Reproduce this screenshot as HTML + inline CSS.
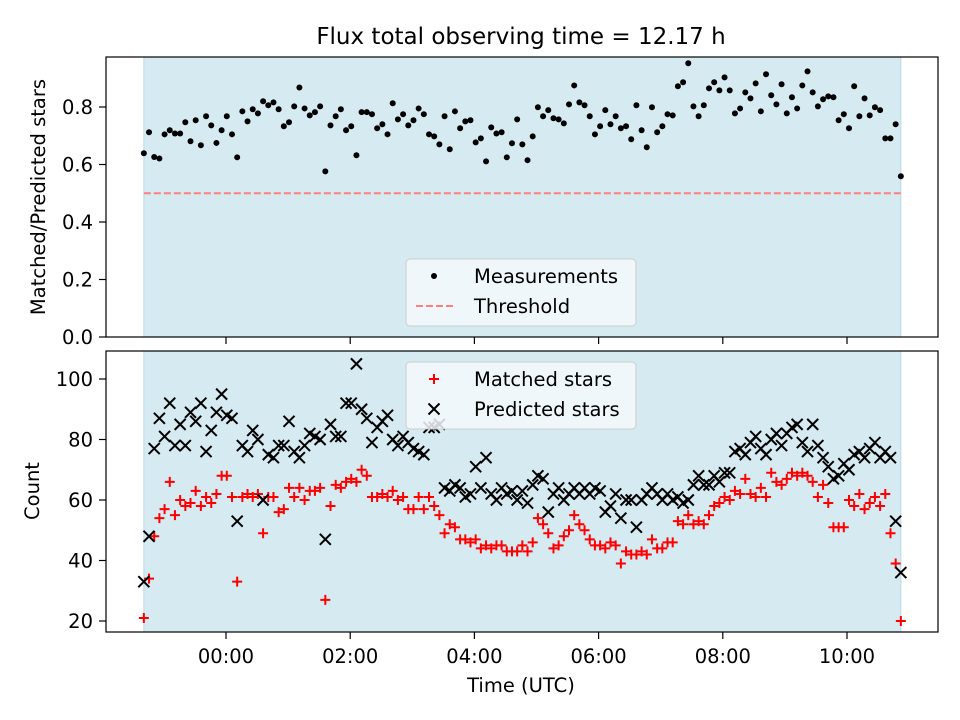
<!DOCTYPE html>
<html><head><meta charset="utf-8"><style>
body{margin:0;background:#fff}
svg{display:block;font-family:"DejaVu Sans","Liberation Sans",sans-serif}
</style></head><body>
<svg id="chart" width="960" height="720" viewBox="0 0 960 720" xmlns="http://www.w3.org/2000/svg">
<text x="521" y="44" text-anchor="middle" style="font-size:23px">Flux total observing time = 12.17 h</text>
<g id="top"></g>
<g id="bot"></g>
<text x="0" y="0" transform="translate(45,197) rotate(-90)" text-anchor="middle" style="font-size:19.5px">Matched/Predicted stars</text>
<text x="0" y="0" transform="translate(39,491) rotate(-90)" text-anchor="middle" style="font-size:19.5px">Count</text>
<text x="521" y="692" text-anchor="middle" style="font-size:19.5px">Time (UTC)</text>
</svg>
<script>
const ratios=[0.639,0.712,0.626,0.621,0.705,0.719,0.708,0.708,0.747,0.681,0.754,0.667,0.768,0.736,0.675,0.719,0.768,0.705,0.625,0.785,0.750,0.792,0.778,0.820,0.806,0.816,0.792,0.733,0.747,0.802,0.868,0.795,0.771,0.782,0.802,0.576,0.736,0.768,
0.792,0.719,0.733,0.632,0.782,0.782,0.775,0.726,0.740,0.705,0.813,0.757,0.775,0.736,0.754,0.795,0.775,0.705,0.698,0.670,0.768,0.653,0.785,0.726,0.750,0.754,0.677,0.691,0.611,0.729,0.708,0.712,0.625,0.674,0.757,0.670,0.615,
0.698,0.799,0.768,0.789,0.761,0.757,0.743,0.809,0.875,0.816,0.806,0.768,0.705,0.733,0.789,0.740,0.768,0.726,0.733,0.688,0.806,0.719,0.660,0.799,0.712,0.733,0.775,0.771,0.872,0.886,0.952,0.802,0.768,0.806,0.865,0.886,0.858,
0.903,0.858,0.778,0.795,0.851,0.830,0.882,0.785,0.914,0.841,0.809,0.879,0.778,0.834,0.795,0.875,0.924,0.851,0.802,0.827,0.837,0.834,0.754,0.775,0.726,0.872,0.768,0.830,0.771,0.799,0.789,0.691,0.691,0.740,0.559];
const matched=[21,34,48,54,57,66,55,60,58,59,63,58,61,59,62,68,68,61,33,61,62,61,62,49,61,61,56,57,64,61,64,60,63,63,64,27,58,65,64,66,67,66,70,68,61,61,62,61,63,60,61,57,57,61,57,61,58,55,49,52,51,47,47,46,47,44,45,44,45,45,43,43,43,45,43,46,54,52,49,44,45,48,50,55,52,50,47,45,45,44,46,45,39,43,42,42,43,42,47,44,44,46,46,53,52,55,52,53,52,55,58,59,61,60,63,62,67,62,61,64,61,69,66,65,67,69,68,69,68,66,61,65,59,51,51,51,60,58,62,57,59,61,58,62,49,39,20];
const predicted=[33,48,77,87,81,92,78,85,78,89,86,92,76,83,89,95,88,87,53,78,76,83,80,60,75,74,78,78,86,76,74,78,82,81,80,47,85,81,81,92,92,105,90,87,79,84,86,88,80,78,81,79,77,76,75,84,84,85,64,63,65,64,61,62,71,64,74,62,60,64,62,63,60,63,59,65,68,67,56,62,64,60,62,64,62,64,62,64,63,56,58,62,54,60,60,51,60,62,64,62,60,62,60,61,59,60,65,68,65,65,68,66,69,69,76,77,75,79,81,77,75,80,82,78,82,84,85,79,76,85,78,74,71,67,68,72,70,75,76,74,77,79,74,76,74,53,36];
const startHour=-1.323, endHour=10.867;
const xTickLabels=["00:00","02:00","04:00","06:00","08:00","10:00"];
const xTickHours=[0,2,4,6,8,10];
const topYTicks=[0.0,0.2,0.4,0.6,0.8];
const botYTicks=[20,40,60,80,100];
const threshold=0.5;

const NS="http://www.w3.org/2000/svg";
const L=106,R=938;
const X=h=>226+(h)*62.1;
const Yt=v=>337-v*287.5;
const Yb=v=>681.5-v*3.025;
function mk(parent,tag,attrs){const e=document.createElementNS(NS,tag);for(const k in attrs)e.setAttribute(k,attrs[k]);parent.appendChild(e);return e;}
const n=ratios.length;
const times=ratios.map((_,i)=>startHour+i*(endHour-startHour)/(n-1));

function panel(g,top,bottom,yTicks,Y,fmt,showLabels,pre){
  let r=mk(g,'rect',{x:X(startHour),y:top,width:X(endHour)-X(startHour),height:bottom-top,fill:'#d5eaf1',stroke:'#b7dbe6','stroke-width':1});
  
  
  yTicks.forEach(v=>{
    const y=Y(v);
    let t=mk(g,'line',{x1:L-7,x2:L,y1:y,y2:y,stroke:'#000','stroke-width':1.2});
    
    
    let tx=mk(g,'text',{x:L-13,y:y+7,'text-anchor':'end',style:'font-size:19.5px'});
    tx.textContent=fmt(v);
    
    
  });
  xTickHours.forEach((h,i)=>{
    const x=X(h);
    let t=mk(g,'line',{x1:x,x2:x,y1:bottom,y2:bottom+7,stroke:'#000','stroke-width':1.2});
    
    
    if(showLabels){
      let tx=mk(g,'text',{x:x,y:bottom+31,'text-anchor':'middle',style:'font-size:19.5px'});
      tx.textContent=xTickLabels[i];
      
      
    }
  });
}
const gt=document.getElementById('top'), gb=document.getElementById('bot');
panel(gt,57,337,topYTicks,Yt,v=>v.toFixed(1),false,'top');
panel(gb,351,632,botYTicks,Yb,v=>String(v),true,'bottom');

let th=mk(gt,'line',{x1:X(startHour),x2:X(endHour),y1:Yt(threshold),y2:Yt(threshold),stroke:'#ff7f7f','stroke-width':2,'stroke-dasharray':'7,3'});


ratios.forEach((v,i)=>{
  let c=mk(gt,'circle',{cx:X(times[i]),cy:Yt(v),r:3,fill:'#000'});
  
  
});
matched.forEach((v,i)=>{
  const x=X(times[i]),y=Yb(v);
  let p=mk(gb,'path',{d:`M${x-5},${y}H${x+5}M${x},${y-5}V${y+5}`,stroke:'#f00','stroke-width':2});
  
  
});
predicted.forEach((v,i)=>{
  const x=X(times[i]),y=Yb(v);
  let p=mk(gb,'path',{d:`M${x-5.5},${y-5.5}L${x+5.5},${y+5.5}M${x-5.5},${y+5.5}L${x+5.5},${y-5.5}`,stroke:'#000','stroke-width':2});
  
  
});
[[57,337],[351,632]].forEach(([a,b])=>{
  let f=mk(document.getElementById('chart'),'rect',{x:L,y:a,width:R-L,height:b-a,fill:'none',stroke:'#000','stroke-width':1.2});
  
  
});
function legend(parent,y0,items,pre){
  let b=mk(parent,'rect',{x:406,y:y0,width:230,height:67,rx:4,fill:'#f5f9fb','fill-opacity':0.85,stroke:'#ccc'});
  
  
  items.forEach((it,i)=>{
    const y=y0+17+i*30;
    let m;
    if(it[0]==='dot')m=mk(parent,'circle',{cx:434,cy:y,r:3,fill:'#000'});
    else if(it[0]==='dash')m=mk(parent,'line',{x1:416,x2:456,y1:y,y2:y,stroke:'#ff7f7f','stroke-width':2,'stroke-dasharray':'7,3'});
    else if(it[0]==='plus')m=mk(parent,'path',{d:`M429,${y}H439M434,${y-5}V${y+5}`,stroke:'#f00','stroke-width':2});
    else m=mk(parent,'path',{d:`M428.5,${y-5.5}L439.5,${y+5.5}M428.5,${y+5.5}L439.5,${y-5.5}`,stroke:'#000','stroke-width':2});
    
    
    let t=mk(parent,'text',{x:474,y:y+7,style:'font-size:19.5px'});
    t.textContent=it[1];
    
    
  });
}
legend(gt,259,[['dot','Measurements'],['dash','Threshold']],'top');
legend(gb,362,[['plus','Matched stars'],['x','Predicted stars']],'bottom');
</script>
</body></html>
